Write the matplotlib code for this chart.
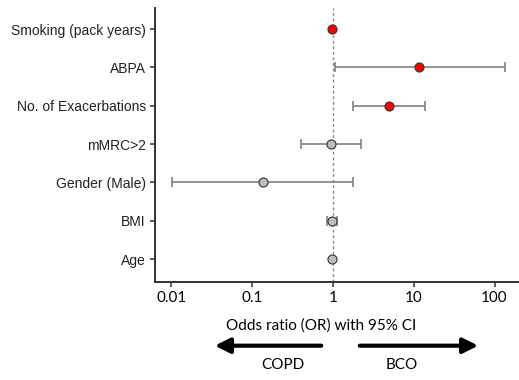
import numpy as np
import matplotlib
matplotlib.use("Agg")
import matplotlib.pyplot as plt

# data (top row first)
labels = ["Smoking (pack years)", "ABPA", "No. of Exacerbations", "mMRC>2",
          "Gender (Male)", "BMI", "Age"]
odds = [0.97, 11.7, 4.9, 0.94, 0.138, 0.97, 0.98]
ci_low = [0.95, 1.06, 1.75, 0.40, 0.0101, 0.84, 0.96]
ci_high = [1.00, 135.0, 13.7, 2.22, 1.80, 1.13, 1.00]
significant = [True, True, True, False, False, False, False]

fig = plt.figure(figsize=(5.19, 3.8), dpi=100)
ax = fig.add_axes([0.2987, 0.2587, 0.6993, 0.7203])

ypos = np.arange(len(labels))[::-1] + 1

ax.axvline(1, color="#888888", linestyle=(0, (2, 2)), linewidth=1, zorder=1)

for y, o, lo, hi, sig in zip(ypos, odds, ci_low, ci_high, significant):
    if hi / lo > 1.08:
        ax.errorbar(o, y, xerr=[[o - lo], [hi - o]], fmt="none",
                    ecolor="#808080", elinewidth=1.2, capsize=3.5,
                    capthick=1.2, zorder=2)
    ax.plot(o, y, "o", markersize=6.5, markerfacecolor="#ff0000" if sig else "#bdbdbd",
            markeredgecolor="#333333", markeredgewidth=0.8, zorder=3)

ax.set_xscale("log")
ax.set_xlim(10 ** -2.2, 10 ** 2.29)
ax.set_ylim(0.41, 7.55)
ax.set_xticks([0.01, 0.1, 1, 10, 100])
ax.set_xticklabels(["0.01", "0.1", "1", "10", "100"], family="Lato", fontsize=11)
ax.xaxis.set_minor_locator(matplotlib.ticker.NullLocator())
ax.set_yticks(ypos)
ax.set_yticklabels(labels, family="Liberation Sans", fontsize=10, color="#222222")

for side in ["top", "right"]:
    ax.spines[side].set_visible(False)
for side in ["left", "bottom"]:
    ax.spines[side].set_color("#333333")
    ax.spines[side].set_linewidth(1.4)
ax.tick_params(length=3.5, width=1.1, color="#333333", pad=3)

fig.text(321 / 519, 1 - 326 / 380, "Odds ratio (OR) with 95% CI", family="Lato",
         fontsize=11, ha="center", va="center")

arrow = dict(arrowstyle="-|>,head_length=0.9,head_width=0.45", color="black", lw=3)
fig.add_artist(matplotlib.patches.FancyArrowPatch(
    (324 / 519, 1 - 345.7 / 380), (212 / 519, 1 - 345.7 / 380),
    transform=fig.transFigure, mutation_scale=10,
    **arrow))
fig.add_artist(matplotlib.patches.FancyArrowPatch(
    (357 / 519, 1 - 345.7 / 380), (481 / 519, 1 - 345.7 / 380),
    transform=fig.transFigure, mutation_scale=10,
    **arrow))
fig.text(283 / 519, 1 - 365 / 380, "COPD", family="Lato", fontsize=11,
         ha="center", va="center")
fig.text(402 / 519, 1 - 365 / 380, "BCO", family="Lato", fontsize=11,
         ha="center", va="center")

fig.savefig("out.png", dpi=100)
